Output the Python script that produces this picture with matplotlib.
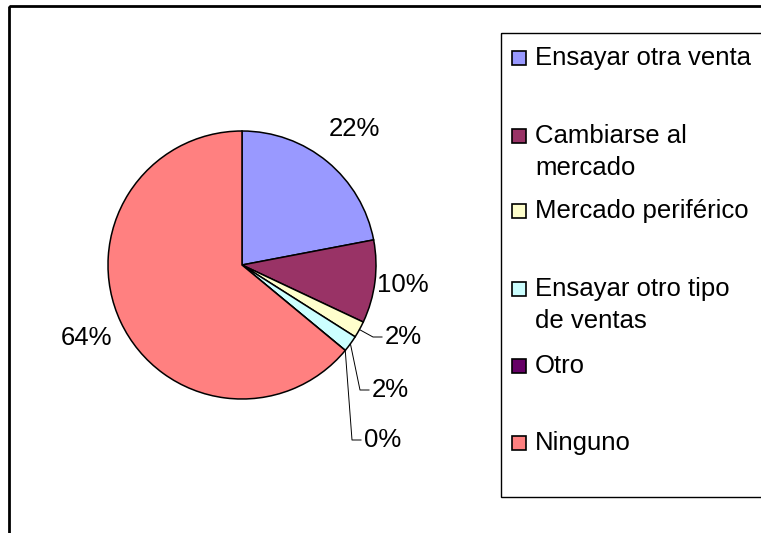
import numpy as np
import matplotlib.pyplot as plt
from matplotlib.patches import Rectangle

plt.rcParams['font.family'] = ['Liberation Sans', 'DejaVu Sans']

categories = ['Ensayar otra venta', 'Cambiarse al\nmercado', 'Mercado periférico',
              'Ensayar otro tipo\nde ventas', 'Otro', 'Ninguno']
shares = [22, 10, 2, 2, 0, 64]
slice_colors = ['#9999FF', '#993366', '#FFFFCC', '#CCFFFF', '#660066', '#FF8080']

W, H = 761, 533
FONT = 18.5

# layout in pixels (y grows downwards)
cx, cy, r = 242, 265, 134
label_dist = [1.32, 1.21, None, None, None, 1.28]
leader_text = {2: (385, 337), 3: (372, 390), 4: (364, 440)}
legend_rows = [58, 136, 211, 289, 366, 443]

fig = plt.figure(figsize=(W / 100, H / 100), dpi=100)
ax = fig.add_axes([0, 0, 1, 1])

wedges, _ = ax.pie(shares, colors=slice_colors, startangle=-90, counterclock=True,
                   center=(cx, cy), radius=r,
                   wedgeprops=dict(edgecolor='black', linewidth=1.1))
ax.set_aspect('auto')
ax.set_xlim(0, W)
ax.set_ylim(H, 0)
ax.axis('off')

# outer chart frame
ax.add_patch(Rectangle((9, 6), W + 20, H + 20, fill=False, ec='black', lw=2, zorder=0))

for i, (w, v) in enumerate(zip(wedges, shares)):
    mid = np.deg2rad((w.theta1 + w.theta2) / 2)
    if label_dist[i] is not None:
        d = label_dist[i] * r
        ax.text(cx + d * np.cos(mid), cy + d * np.sin(mid), f'{v}%',
                ha='center', va='center', fontsize=FONT)
    else:
        tx, ty = leader_text[i]
        ex, ey = cx + r * np.cos(mid), cy + r * np.sin(mid)
        ax.plot([ex, tx - 12, tx - 3], [ey, ty, ty], color='black', lw=0.7)
        ax.text(tx, ty, f'{v}%', ha='left', va='center', fontsize=FONT)

# legend
ax.add_patch(Rectangle((501, 33), 300, 464, fill=False, ec='black', lw=1))
for name, col, y in zip(categories, slice_colors, legend_rows):
    ax.add_patch(Rectangle((512, y - 7), 14, 14, fc=col, ec='black', lw=1.2))
    ax.text(535, y - 12, name, ha='left', va='top', fontsize=FONT, linespacing=1.42)

fig.savefig('out.png', dpi=100)
